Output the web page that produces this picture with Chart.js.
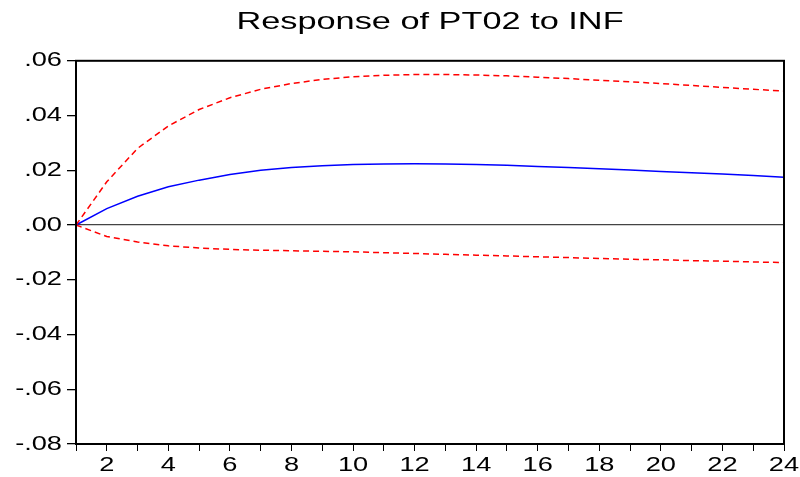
<!DOCTYPE html>
<html>
<head>
<meta charset="utf-8">
<script src="https://cdn.jsdelivr.net/npm/chart.js@4.4.1/dist/chart.umd.min.js"></script>
<style>
  html, body { margin: 0; padding: 0; background: #fff; }
  #wrap { width: 800px; height: 477px; }
</style>
</head>
<body>
<div id="wrap"><canvas id="myChart" width="800" height="477"></canvas></div>
<script>
const periods = [1, 2, 3, 4, 5, 6, 7, 8, 9, 10, 11, 12, 13, 14, 15, 16, 17, 18, 19, 20, 21, 22, 23, 24];
const response = [0, 0.0060, 0.0105, 0.0140, 0.0164, 0.0185, 0.0200, 0.0210, 0.0217, 0.0221, 0.0223, 0.0224,
    0.0223, 0.0221, 0.0218, 0.0214, 0.0210, 0.0206, 0.0201, 0.0196, 0.0191, 0.0186, 0.0181, 0.0175];
const upperBand = [0, 0.0158, 0.0280, 0.0362, 0.0422, 0.0465, 0.0496, 0.0517, 0.0532, 0.0542, 0.0547, 0.0550,
    0.0550, 0.0548, 0.0545, 0.0540, 0.0535, 0.0529, 0.0523, 0.0517, 0.0510, 0.0503, 0.0496, 0.0489];
const lowerBand = [0, -0.0042, -0.0062, -0.0076, -0.0084, -0.0089, -0.0092, -0.0094, -0.0096, -0.0098, -0.0101, -0.0104,
    -0.0107, -0.0110, -0.0113, -0.0116, -0.0119, -0.0122, -0.0125, -0.0127, -0.0130, -0.0132, -0.0135, -0.0137];
const yTicks = [-0.08, -0.06, -0.04, -0.02, 0, 0.02, 0.04, 0.06];

const ctx = document.getElementById('myChart');

// eviews output has wide, horizontally stretched lettering
const stretchText = {
    id: 'stretchText',
    afterInit(chart) {
        const c = chart.ctx;
        const orig = c.fillText;
        c.fillText = function(text, x, y) {
            const m = /(\d+(\.\d+)?)px/.exec(this.font);
            const size = m ? parseFloat(m[1]) : 12;
            const s = size >= 22 ? 1.43 : 1.36;
            this.save();
            this.translate(x, y);
            this.scale(s, 1);
            orig.call(this, text, 0, 0);
            this.restore();
        };
    }
};

const frame = {
    id: 'frame',
    afterDraw(chart) {
        const a = chart.chartArea;
        const c = chart.ctx;
        c.save();
        c.strokeStyle = '#000';
        c.lineWidth = 2;
        c.strokeRect(a.left, a.top, a.right - a.left, a.bottom - a.top);
        c.restore();
    }
};

function fmt(v) {
    const s = Math.abs(v).toFixed(2).slice(1);
    return v < -1e-9 ? '-' + s : s;
}

new Chart(ctx, {
    type: 'line',
    data: {
        labels: periods,
        datasets: [
            {
                data: upperBand,
                borderColor: '#ff0000',
                borderWidth: 1.5,
                borderDash: [6, 4],
                pointRadius: 0,
                tension: 0
            },
            {
                data: lowerBand,
                borderColor: '#ff0000',
                borderWidth: 1.5,
                borderDash: [6, 4],
                pointRadius: 0,
                tension: 0
            },
            {
                data: response,
                borderColor: '#0000ff',
                borderWidth: 1.5,
                pointRadius: 0,
                tension: 0
            }
        ]
    },
    options: {
        responsive: false,
        animation: false,
        layout: {
            padding: { left: 0, right: 16, top: 0, bottom: 0 }
        },
        plugins: {
            legend: { display: false },
            tooltip: { enabled: false },
            title: {
                display: true,
                fullSize: false,
                text: 'Response of PT02 to INF',
                color: '#000',
                font: { family: 'Liberation Sans', size: 24, weight: 'normal' },
                padding: { top: 8, bottom: 24 }
            }
        },
        scales: {
            x: {
                type: 'category',
                offset: false,
                grid: {
                    drawOnChartArea: false,
                    tickLength: 7,
                    tickColor: '#000',
                    offset: false
                },
                border: { display: true, color: '#000', width: 2 },
                ticks: {
                    autoSkip: false,
                    maxRotation: 0,
                    padding: 2,
                    color: '#000',
                    font: { family: 'Liberation Sans', size: 20 },
                    callback: function(val, i) {
                        return periods[i] % 2 === 0 ? String(periods[i]) : '';
                    }
                },
                afterFit: function(scale) { scale.height = 33; }
            },
            y: {
                min: -0.08,
                max: 0.06,
                afterBuildTicks: function(scale) {
                    scale.ticks = yTicks.map(v => ({ value: v }));
                },
                grid: {
                    drawOnChartArea: true,
                    tickLength: 9,
                    tickColor: '#000',
                    color: c => (c.tick && Math.abs(c.tick.value) < 1e-9) ? '#444' : 'rgba(0,0,0,0)',
                    lineWidth: 1.3
                },
                border: { display: true, color: '#000', width: 2 },
                ticks: {
                    padding: 5,
                    color: '#000',
                    font: { family: 'Liberation Sans', size: 20 },
                    callback: v => fmt(v)
                },
                afterFit: function(scale) { scale.width = 76; }
            }
        }
    },
    plugins: [stretchText, frame]
});
</script>
</body>
</html>
